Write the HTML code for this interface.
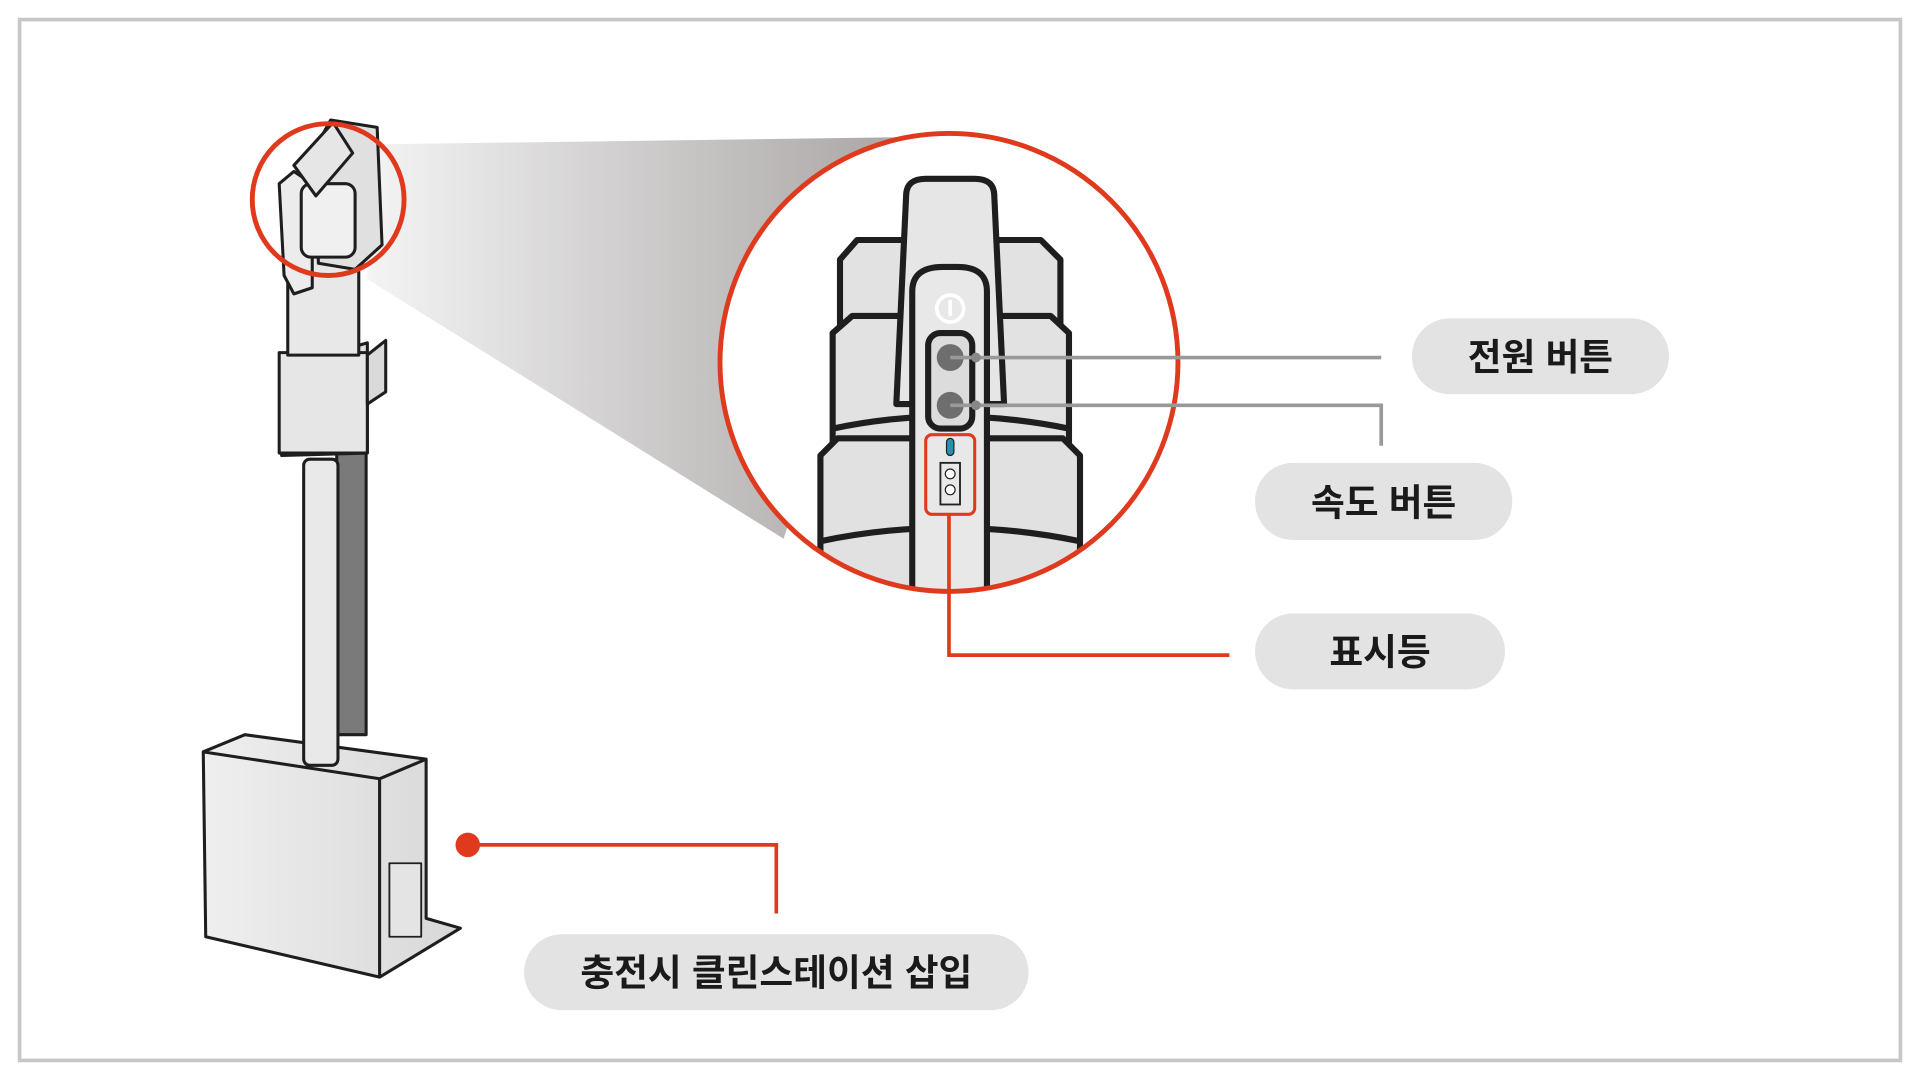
<!DOCTYPE html>
<html><head><meta charset="utf-8"><style>
html,body{margin:0;padding:0;background:#fff;width:1920px;height:1080px;overflow:hidden}
svg{display:block}
text{font-family:"Liberation Sans","Noto Sans CJK KR",sans-serif;font-weight:bold;fill:#1a1a1a}
</style></head><body>
<svg width="1920" height="1080" viewBox="0 0 1568 882" preserveAspectRatio="none">
<defs>
<linearGradient id="cone" x1="0" x2="1" y1="0" y2="0">
<stop offset="0" stop-color="#f4f4f4"/><stop offset="1" stop-color="#a9a5a4"/></linearGradient>
<linearGradient id="body" x1="0" x2="1"><stop offset="0" stop-color="#efefef"/><stop offset="1" stop-color="#d8d8d8"/></linearGradient>
<clipPath id="cc"><circle cx="775" cy="296" r="187"/></clipPath>
</defs>
<rect x="16" y="16" width="1536" height="850" fill="#fff" stroke="#c8c8c8" stroke-width="3"/>
<!-- cone -->
<polygon points="300,118 740,112 640,440 300,228" fill="url(#cone)"/>
<circle cx="775" cy="296" r="187" fill="#fff"/>
<!-- zoom content -->
<g clip-path="url(#cc)" stroke="#1e1e1e" stroke-width="5" stroke-linejoin="round">
<path d="M686,212 L700,196 L850,196 L866,212 L866,480 L686,480Z" fill="#e3e2e3"/>
<path d="M680,272 L696,258 L858,258 L873,272 L873,480 L680,480Z" fill="#e3e2e3"/>
<path d="M670,372 L684,358 L868,358 L882,372 L882,490 L670,490Z" fill="#e2e1e2"/>
<path d="M680,350 Q775,330 873,350" fill="none"/>
<path d="M670,442 Q775,420 882,442" fill="none"/>
<path d="M740,160 Q740,146 756,146 L796,146 Q812,146 812,160 L820,330 L732,330Z" fill="#e7e6e7"/>
<path d="M745,238 Q745,218 770,218 L782,218 Q806,218 806,238 L806,500 L745,500Z" fill="#e9e8e9"/>
<rect x="758" y="272" width="36" height="78" rx="10" fill="#dcdcdc"/>
</g>
<circle cx="776" cy="252" r="11" fill="none" stroke="#fff" stroke-width="3"/>
<line x1="776" y1="245" x2="776" y2="258" stroke="#fff" stroke-width="3"/>
<circle cx="776" cy="292" r="11" fill="#6e6e6e"/>
<circle cx="776" cy="331" r="11" fill="#6e6e6e"/>
<rect x="773" y="358" width="6" height="14" rx="3" fill="#2a8fb0" stroke="#222" stroke-width="1"/>
<rect x="768" y="378" width="16" height="34" fill="none" stroke="#222" stroke-width="1.5"/>
<circle cx="776" cy="387" r="4" fill="#fff" stroke="#222"/>
<circle cx="776" cy="400" r="4" fill="#fff" stroke="#222"/>
<rect x="756" y="355" width="40" height="65" rx="5" fill="none" stroke="#e03a1e" stroke-width="2.5"/>
<circle cx="775" cy="296" r="187" fill="none" stroke="#e03a1e" stroke-width="4"/>
<!-- connectors -->
<polyline points="776,292 1128,292" fill="none" stroke="#999" stroke-width="3"/>
<polyline points="776,331 1128,331 1128,364" fill="none" stroke="#999" stroke-width="3"/>
<circle cx="797" cy="292" r="4" fill="#888"/><circle cx="797" cy="331" r="4" fill="#888"/>
<polyline points="775,420 775,535 1004,535" fill="none" stroke="#e03a1e" stroke-width="3"/>
<polyline points="382,690 634,690 634,746" fill="none" stroke="#e03a1e" stroke-width="3"/>
<circle cx="382" cy="690" r="10" fill="#e03a1e"/>
<!-- vacuum -->
<g stroke="#1e1e1e" stroke-width="2.5" stroke-linejoin="round">
<rect x="275" y="360" width="24" height="240" fill="#7a7a7a"/>
<path d="M166,614 L200,600 L348,620 L348,750 L376,758 L310,798 L168,765Z" fill="url(#body)"/>
<path d="M166,614 L310,636 L348,620" fill="none"/>
<line x1="310" y1="636" x2="310" y2="798"/>
<rect x="318" y="705" width="26" height="60" fill="#e4e4e4" stroke-width="1.5"/>
<rect x="248" y="375" width="28" height="250" rx="5" fill="#e9e9e9"/>
<path d="M230,300 L300,280 L300,370 L230,372Z" fill="#e3e3e3"/>
<rect x="228" y="288" width="72" height="82" fill="#e6e6e6"/>
<path d="M300,290 L315,278 L315,320 L300,330Z" fill="#dadada"/>
<rect x="235" y="200" width="58" height="90" fill="#e8e8e8"/>
<path d="M228,150 L240,140 L255,150 L255,235 L240,240 L232,225Z" fill="#ececec"/>
<path d="M270,98 L308,104 L312,200 L290,220 L260,215 L258,120Z" fill="#e0e0e0"/>
<rect x="246" y="150" width="44" height="60" rx="8" fill="#f0f0f0"/>
<path d="M240,135 L272,100 L288,125 L258,160Z" fill="#e6e6e6"/>
</g>
<circle cx="268" cy="163" r="62" fill="none" stroke="#e03a1e" stroke-width="4"/>
<!-- labels -->
<rect x="1153" y="260" width="210" height="62" rx="31" fill="#e3e3e3"/>
<text x="1258" y="302" font-size="30" text-anchor="middle">전원 버튼</text>
<rect x="1025" y="378" width="210" height="63" rx="31" fill="#e3e3e3"/>
<text x="1130" y="421" font-size="30" text-anchor="middle">속도 버튼</text>
<rect x="1025" y="501" width="204" height="62" rx="31" fill="#e3e3e3"/>
<text x="1127" y="543" font-size="30" text-anchor="middle">표시등</text>
<rect x="428" y="763" width="412" height="62" rx="31" fill="#e3e3e3"/>
<text x="634" y="805" font-size="30" text-anchor="middle">충전시 클린스테이션 삽입</text>
</svg>
</body></html>
